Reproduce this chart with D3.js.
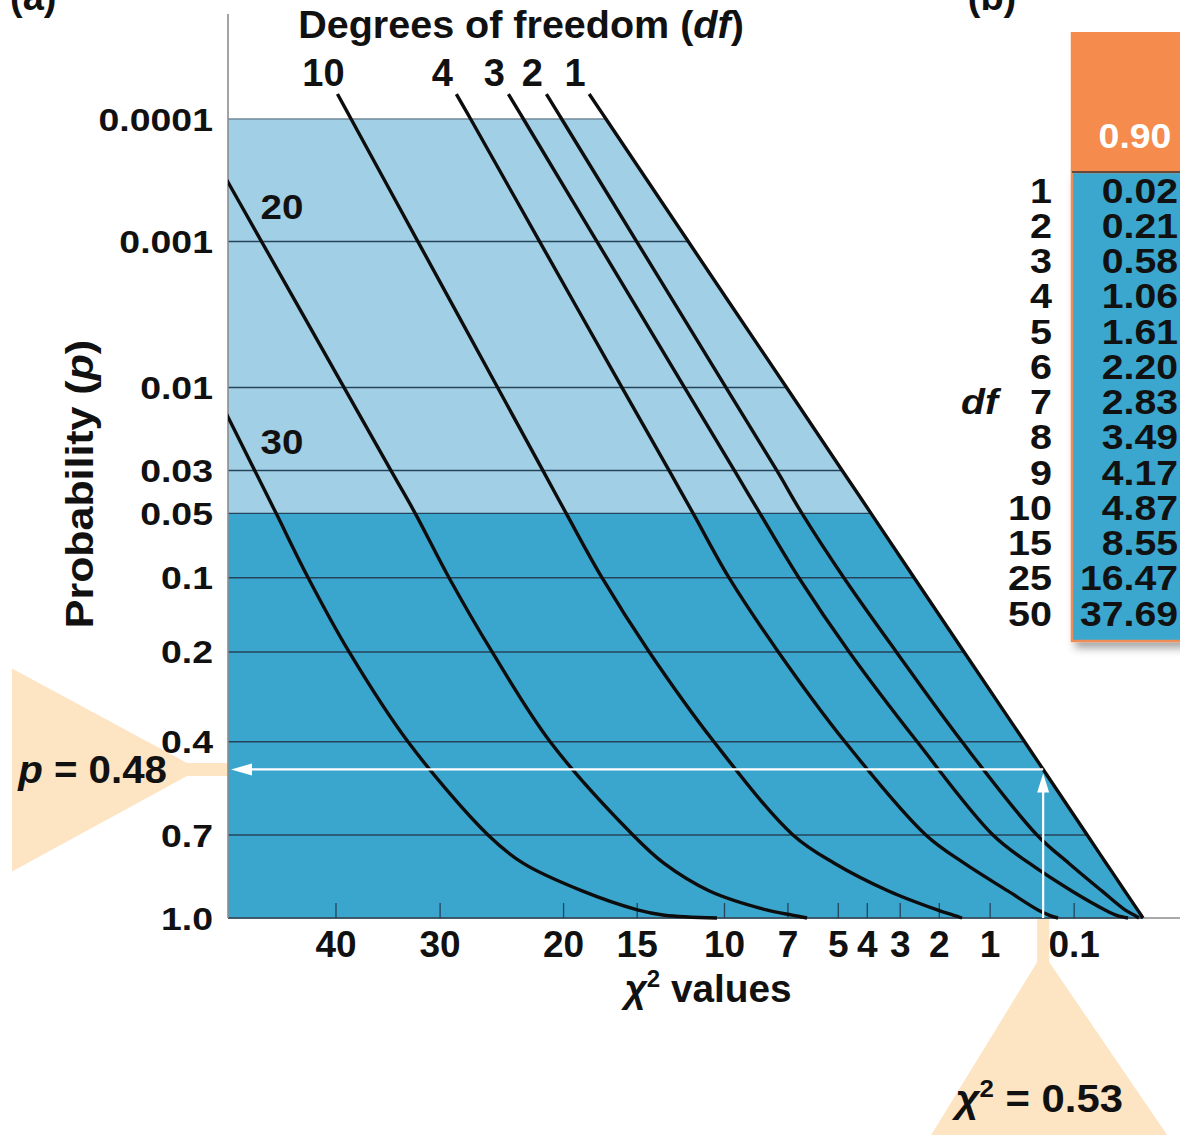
<!DOCTYPE html>
<html><head><meta charset="utf-8">
<script src="https://cdn.jsdelivr.net/npm/d3@7"></script>
<style>
html,body{margin:0;padding:0;background:#fff;}
svg{display:block;}
text{font-family:"Liberation Sans",Arial,Helvetica,sans-serif;font-weight:bold;fill:#111;}
</style></head><body>
<svg id="chart" width="1180" height="1139"></svg>
<script>
// ---------------- data ----------------
const pLevels = [0.00006, 0.0001, 0.001, 0.01, 0.03, 0.05, 0.1, 0.2, 0.4, 0.7, 0.8, 0.9, 0.97, 0.99, 1.0];
const dfCurves = [1, 2, 3, 4, 10, 20, 30];
const chi2_df1  = [18.18, 17.03, 11.95, 7.06, 4.86, 3.88, 2.62, 1.47, 0.518, 0.0441, 0.0030, -0.0092, -0.0401, -0.0527, -0.0596];
const chi2_df2  = [21.27, 20.14, 15.03, 9.92, 7.49, 6.41, 4.80, 3.11, 1.51, 0.383, 0.128, 0.0082, -0.0095, -0.0306, -0.0448];
const chi2_df3  = [24.22, 23.03, 17.64, 12.16, 9.50, 8.26, 6.54, 4.61, 2.54, 0.954, 0.461, 0.1125, 0.0042, -0.0009, -0.0149];
const chi2_df4  = [28.57, 27.34, 21.78, 15.97, 13.06, 11.68, 9.77, 7.42, 4.76, 2.32, 1.461, 0.733, 0.373, 0.267, 0.200];
const chi2_df10 = [39.85, 38.46, 32.01, 25.09, 21.54, 19.81, 17.30, 14.25, 10.55, 6.785, 5.13, 3.34, 2.045, 1.681, 1.51];
const chi2_df20 = [57.89, 56.16, 48.03, 39.17, 34.55, 32.26, 29.21, 25.54, 20.99, 15.27, 13.35, 10.79, 7.955, 6.764, 6.20];
const chi2_df30 = [null, null, null, 53.63, 48.81, 46.40, 42.92, 38.66, 32.93, 25.88, 23.03, 18.67, 14.98, 13.33, 10.39];

const pTicks = [0.0001, 0.001, 0.01, 0.03, 0.05, 0.1, 0.2, 0.4, 0.7, 1.0];
const pTickLabels = ["0.0001", "0.001", "0.01", "0.03", "0.05", "0.1", "0.2", "0.4", "0.7", "1.0"];
const chi2Ticks = [40, 30, 20, 15, 10, 7, 5, 4, 3, 2, 1, 0.1];
const pSignificance = 0.05;
const pObserved = 0.48;
const chi2Observed = 0.53;

const tableDf = [1, 2, 3, 4, 5, 6, 7, 8, 9, 10, 15, 25, 50];
const tableChi2 = [0.02, 0.21, 0.58, 1.06, 1.61, 2.20, 2.83, 3.49, 4.17, 4.87, 8.55, 16.47, 37.69];
const tableP = 0.90;

// ---------------- helpers ----------------
function normInv(p){
  const a=[-3.969683028665376e+01,2.209460984245205e+02,-2.759285104469687e+02,1.383577518672690e+02,-3.066479806614716e+01,2.506628277459239e+00];
  const b=[-5.447609879822406e+01,1.615858368580409e+02,-1.556989798598866e+02,6.680131188771972e+01,-1.328068155288572e+01];
  const c=[-7.784894002430293e-03,-3.223964580411365e-01,-2.400758277161838e+00,-2.549732539343734e+00,4.374664141464968e+00,2.938163982698783e+00];
  const d=[7.784695709041462e-03,3.224671290700398e-01,2.445134137142996e+00,3.754408661907416e+00];
  const pl=0.02425, ph=1-pl; let q,r;
  if(p<pl){q=Math.sqrt(-2*Math.log(p));return (((((c[0]*q+c[1])*q+c[2])*q+c[3])*q+c[4])*q+c[5])/((((d[0]*q+d[1])*q+d[2])*q+d[3])*q+1);}
  if(p<=ph){q=p-0.5;r=q*q;return (((((a[0]*r+a[1])*r+a[2])*r+a[3])*r+a[4])*r+a[5])*q/(((((b[0]*r+b[1])*r+b[2])*r+b[3])*r+b[4])*r+1);}
  q=Math.sqrt(-2*Math.log(1-p));return -(((((c[0]*q+c[1])*q+c[2])*q+c[3])*q+c[4])*q+c[5])/((((d[0]*q+d[1])*q+d[2])*q+d[3])*q+1);
}
const zOf = p => (p >= 1 ? 0 : normInv(1 - p / 2));

// ---------------- layout & scales ----------------
const W = 1180, H = 1139;
const plotLeft = 228, plotBottom = 918, plotTop = 119;
const x = d3.scalePow().exponent(0.5).domain([0, 40]).range([1113, 336]);
const yz = d3.scaleLinear().domain([0, zOf(0.7), zOf(0.0001)]).range([plotBottom, 835, plotTop]);
const y = p => yz(zOf(p));

const C = {
  light: "#a0cfe6", dark: "#3aa6ce", grid: "#25435a", curve: "#0d0d0d",
  peach: "#fde4c3", orange: "#f58b4c", axisGray: "#8c8c8c"
};

const svg = d3.select("#chart");
const defs = svg.append("defs");
defs.append("clipPath").attr("id", "plotClip").append("rect")
  .attr("x", plotLeft).attr("y", 0).attr("width", W - plotLeft).attr("height", H);
const shadow = defs.append("filter").attr("id", "shadow").attr("x", "-20%").attr("y", "-20%").attr("width", "150%").attr("height", "150%");
shadow.append("feDropShadow").attr("dx", 4).attr("dy", 6).attr("stdDeviation", 4).attr("flood-color", "#000").attr("flood-opacity", 0.35);

function label(parent, px, py, parts, o = {}) {
  const g = parent.append("g").attr("transform",
    `translate(${px},${py})` + (o.rotate ? ` rotate(${o.rotate})` : "") + ` scale(${o.sx || 1},1)`);
  const t = g.append("text").attr("text-anchor", o.anchor || "start").attr("font-size", o.size || 32);
  if (o.dy) t.attr("dy", o.dy);
  if (o.fill) t.style("fill", o.fill);
  (Array.isArray(parts) ? parts : [parts]).forEach(s => {
    const sp = typeof s === "string" ? { t: s } : s;
    const ts = t.append("tspan").text(sp.t);
    if (sp.italic) ts.attr("font-style", "italic");
    if (sp.sup) ts.attr("font-size", "0.62em").attr("dy", "-0.62em");
    if (sp.after) ts.attr("dy", "0.385em");
  });
  return t;
}
function xAtY(pts, yy) {
  for (let i = 0; i < pts.length - 1; i++) {
    const [x0, y0] = pts[i], [x1, y1] = pts[i + 1];
    if ((yy - y0) * (yy - y1) <= 0) { const t = (yy - y0) / ((y1 - y0) || 1); return x0 + t * (x1 - x0); }
  }
  return pts[pts.length - 1][0];
}
function yAtX(pts, xx) {
  for (let i = 0; i < pts.length - 1; i++) {
    const [x0, y0] = pts[i], [x1, y1] = pts[i + 1];
    if ((xx - x0) * (xx - x1) <= 0) { const t = (xx - x0) / ((x1 - x0) || 1); return y0 + t * (y1 - y0); }
  }
  return pts[0][1];
}

// ---------------- curve data ----------------
const series = [chi2_df1, chi2_df2, chi2_df3, chi2_df4, chi2_df10, chi2_df20, chi2_df30];
const curves = dfCurves.map((df, i) => ({
  df,
  pts: pLevels.map((p, j) => ({ p, c: series[i][j] })).filter(d => d.c !== null)
}));
const px = d => [x(d.c), y(d.p)];
const edge = curves[0].pts.map(px);           // df = 1 boundary line
const yObs = y(pObserved);
const xObs = xAtY(edge, yObs);

// ---------------- callout shapes (behind) ----------------
const gCall = svg.append("g");
gCall.append("polygon").attr("fill", C.peach).attr("points", [
  [plotLeft, yObs - 6.5], [plotLeft - 41, yObs - 6.5], [plotLeft - 216, yObs - 101],
  [plotLeft - 216, yObs + 102], [plotLeft - 41, yObs + 6.5], [plotLeft, yObs + 6.5]
].map(d => d.join(",")).join(" "));
gCall.append("polygon").attr("fill", C.peach).attr("points", [
  [xObs - 6, plotBottom], [xObs + 6, plotBottom], [xObs + 6, plotBottom + 44],
  [xObs + 124, 1135], [xObs - 112, 1135], [xObs - 6, plotBottom + 44]
].map(d => d.join(",")).join(" "));

// ---------------- shaded regions ----------------
const lightPts = [[plotLeft, y(0.0001)], ...curves[0].pts.filter(d => d.p >= 0.0001 && d.p <= pSignificance).map(px), [plotLeft, y(pSignificance)]];
const darkPts = [[plotLeft, y(pSignificance)], ...curves[0].pts.filter(d => d.p >= pSignificance).map(px), [plotLeft, y(1)]];
svg.append("polygon").attr("fill", C.light).attr("points", lightPts.map(d => d.join(",")).join(" "));
svg.append("polygon").attr("fill", C.dark).attr("points", darkPts.map(d => d.join(",")).join(" "));

// ---------------- grid lines ----------------
const gGrid = svg.append("g");
pTicks.forEach(p => {
  const yy = y(p);
  const xe = p >= 1 ? W : xAtY(edge, yy);
  gGrid.append("line").attr("x1", plotLeft).attr("x2", xe).attr("y1", yy).attr("y2", yy)
    .attr("stroke", p === 0.0001 ? "#6f8898" : (p >= 1 ? C.axisGray : C.grid)).attr("stroke-width", p >= 1 ? 1.6 : 1.4);
});
gGrid.append("line").attr("x1", plotLeft).attr("x2", x(chi2_df1[chi2_df1.length - 1])).attr("y1", y(1)).attr("y2", y(1))
  .attr("stroke", C.grid).attr("stroke-width", 1.6);
svg.append("line").attr("x1", plotLeft).attr("x2", plotLeft).attr("y1", 14).attr("y2", plotBottom)
  .attr("stroke", C.axisGray).attr("stroke-width", 1.6);

// x tick marks
svg.append("g").selectAll("line").data(chi2Ticks).join("line")
  .attr("x1", d => x(d)).attr("x2", d => x(d)).attr("y1", plotBottom).attr("y2", plotBottom - 15)
  .attr("stroke", C.grid).attr("stroke-width", 1.3);

// ---------------- curves ----------------
const line = d3.line().x(d => x(d.c)).y(d => y(d.p)).curve(d3.curveCatmullRom.alpha(0.5));
svg.append("g").attr("clip-path", "url(#plotClip)").selectAll("path").data(curves).join("path")
  .attr("d", d => line(d.pts)).attr("fill", "none").attr("stroke", C.curve).attr("stroke-width", 3.4);

// ---------------- observed-value arrows ----------------
const gArr = svg.append("g");
gArr.append("line").attr("x1", xObs).attr("x2", plotLeft + 20).attr("y1", yObs).attr("y2", yObs)
  .attr("stroke", "#fff").attr("stroke-width", 2.2);
gArr.append("polygon").attr("fill", "#fff").attr("points",
  [[plotLeft + 3, yObs], [plotLeft + 24, yObs - 6], [plotLeft + 24, yObs + 6]].map(d => d.join(",")).join(" "));
gArr.append("line").attr("x1", xObs).attr("x2", xObs).attr("y1", plotBottom).attr("y2", yObs + 20)
  .attr("stroke", "#fff").attr("stroke-width", 2.2);
gArr.append("polygon").attr("fill", "#fff").attr("points",
  [[xObs, yObs + 4], [xObs - 6, yObs + 23], [xObs + 6, yObs + 23]].map(d => d.join(",")).join(" "));

// ---------------- texts ----------------
const gT = svg.append("g");
label(gT, 10, 10, "(a)", { size: 38 });
label(gT, 992, 10, "(b)", { size: 38, anchor: "middle" });
label(gT, 521, 38, ["Degrees of freedom (", { t: "df", italic: true }, ")"], { size: 38, anchor: "middle", sx: 1.04 });

// df labels
curves.forEach(cv => {
  const pts = cv.pts.map(px);
  if (pts[0][0] >= plotLeft) {
    label(gT, pts[0][0] - 14, pts[0][1] - 8, String(cv.df), { size: 38, anchor: "middle" });
  } else {
    const ye = yAtX(pts, plotLeft);
    label(gT, plotLeft + 54, ye + 24, String(cv.df), { size: 35, anchor: "middle", sx: 1.1, dy: "0.36em" });
  }
});

// y tick labels
pTicks.forEach((p, i) => label(gT, 213, y(p), pTickLabels[i], { size: 32, anchor: "end", sx: 1.17, dy: "0.36em" }));
label(gT, 93, 484, ["Probability (", { t: "p", italic: true }, ")"], { size: 39, anchor: "middle", sx: 1.1, rotate: -90 });

// x tick labels
chi2Ticks.forEach(v => label(gT, x(v), 957, String(v), { size: 37, anchor: "middle" }));
label(gT, 708, 1002, [{ t: "χ", italic: true }, { t: "2", sup: true }, { t: " values", after: true }], { size: 38, anchor: "middle", sx: 1.02 });

// callout labels
label(gT, plotLeft - 61, yObs, [{ t: "p", italic: true }, " = " + pObserved.toFixed(2)], { size: 38, anchor: "end", sx: 1.06, dy: "0.36em" });
label(gT, xObs - 4, 1112, [{ t: "χ", italic: true }, { t: "2", sup: true }, { t: " = " + chi2Observed.toFixed(2), after: true }], { size: 38, anchor: "middle", sx: 1.1 });

// ---------------- table (b) ----------------
const tX = 1072, tRight = 1180, headTop = 32, headBottom = 172, bodyBottom = 641;
const rowY = d3.scalePoint().domain(tableDf).range([190, 613]);
const gTab = svg.append("g");
gTab.append("rect").attr("x", tX).attr("y", headBottom).attr("width", tRight - tX + 10).attr("height", bodyBottom - headBottom)
  .attr("fill", C.dark).attr("stroke", "#ee8d58").attr("stroke-width", 2.5).attr("filter", "url(#shadow)");
gTab.append("rect").attr("x", tX - 1.25).attr("y", headTop).attr("width", tRight - tX + 10).attr("height", headBottom - headTop)
  .attr("fill", C.orange);
gTab.append("line").attr("x1", tX).attr("x2", tRight).attr("y1", headBottom).attr("y2", headBottom)
  .attr("stroke", "#333").attr("stroke-width", 1.5);
label(gTab, 1135, 135, tableP.toFixed(2), { size: 35, anchor: "middle", sx: 1.07, dy: "0.36em", fill: "#fff" });
tableDf.forEach((df, i) => {
  label(gTab, 1052, rowY(df), String(df), { size: 35, anchor: "end", sx: 1.13, dy: "0.36em" });
  label(gTab, 1178, rowY(df), tableChi2[i].toFixed(2), { size: 35, anchor: "end", sx: 1.12, dy: "0.36em" });
});
label(gTab, 998, rowY(7), [{ t: "df", italic: true }], { size: 35, anchor: "end", sx: 1.12, dy: "0.36em" });
</script>
</body></html>
